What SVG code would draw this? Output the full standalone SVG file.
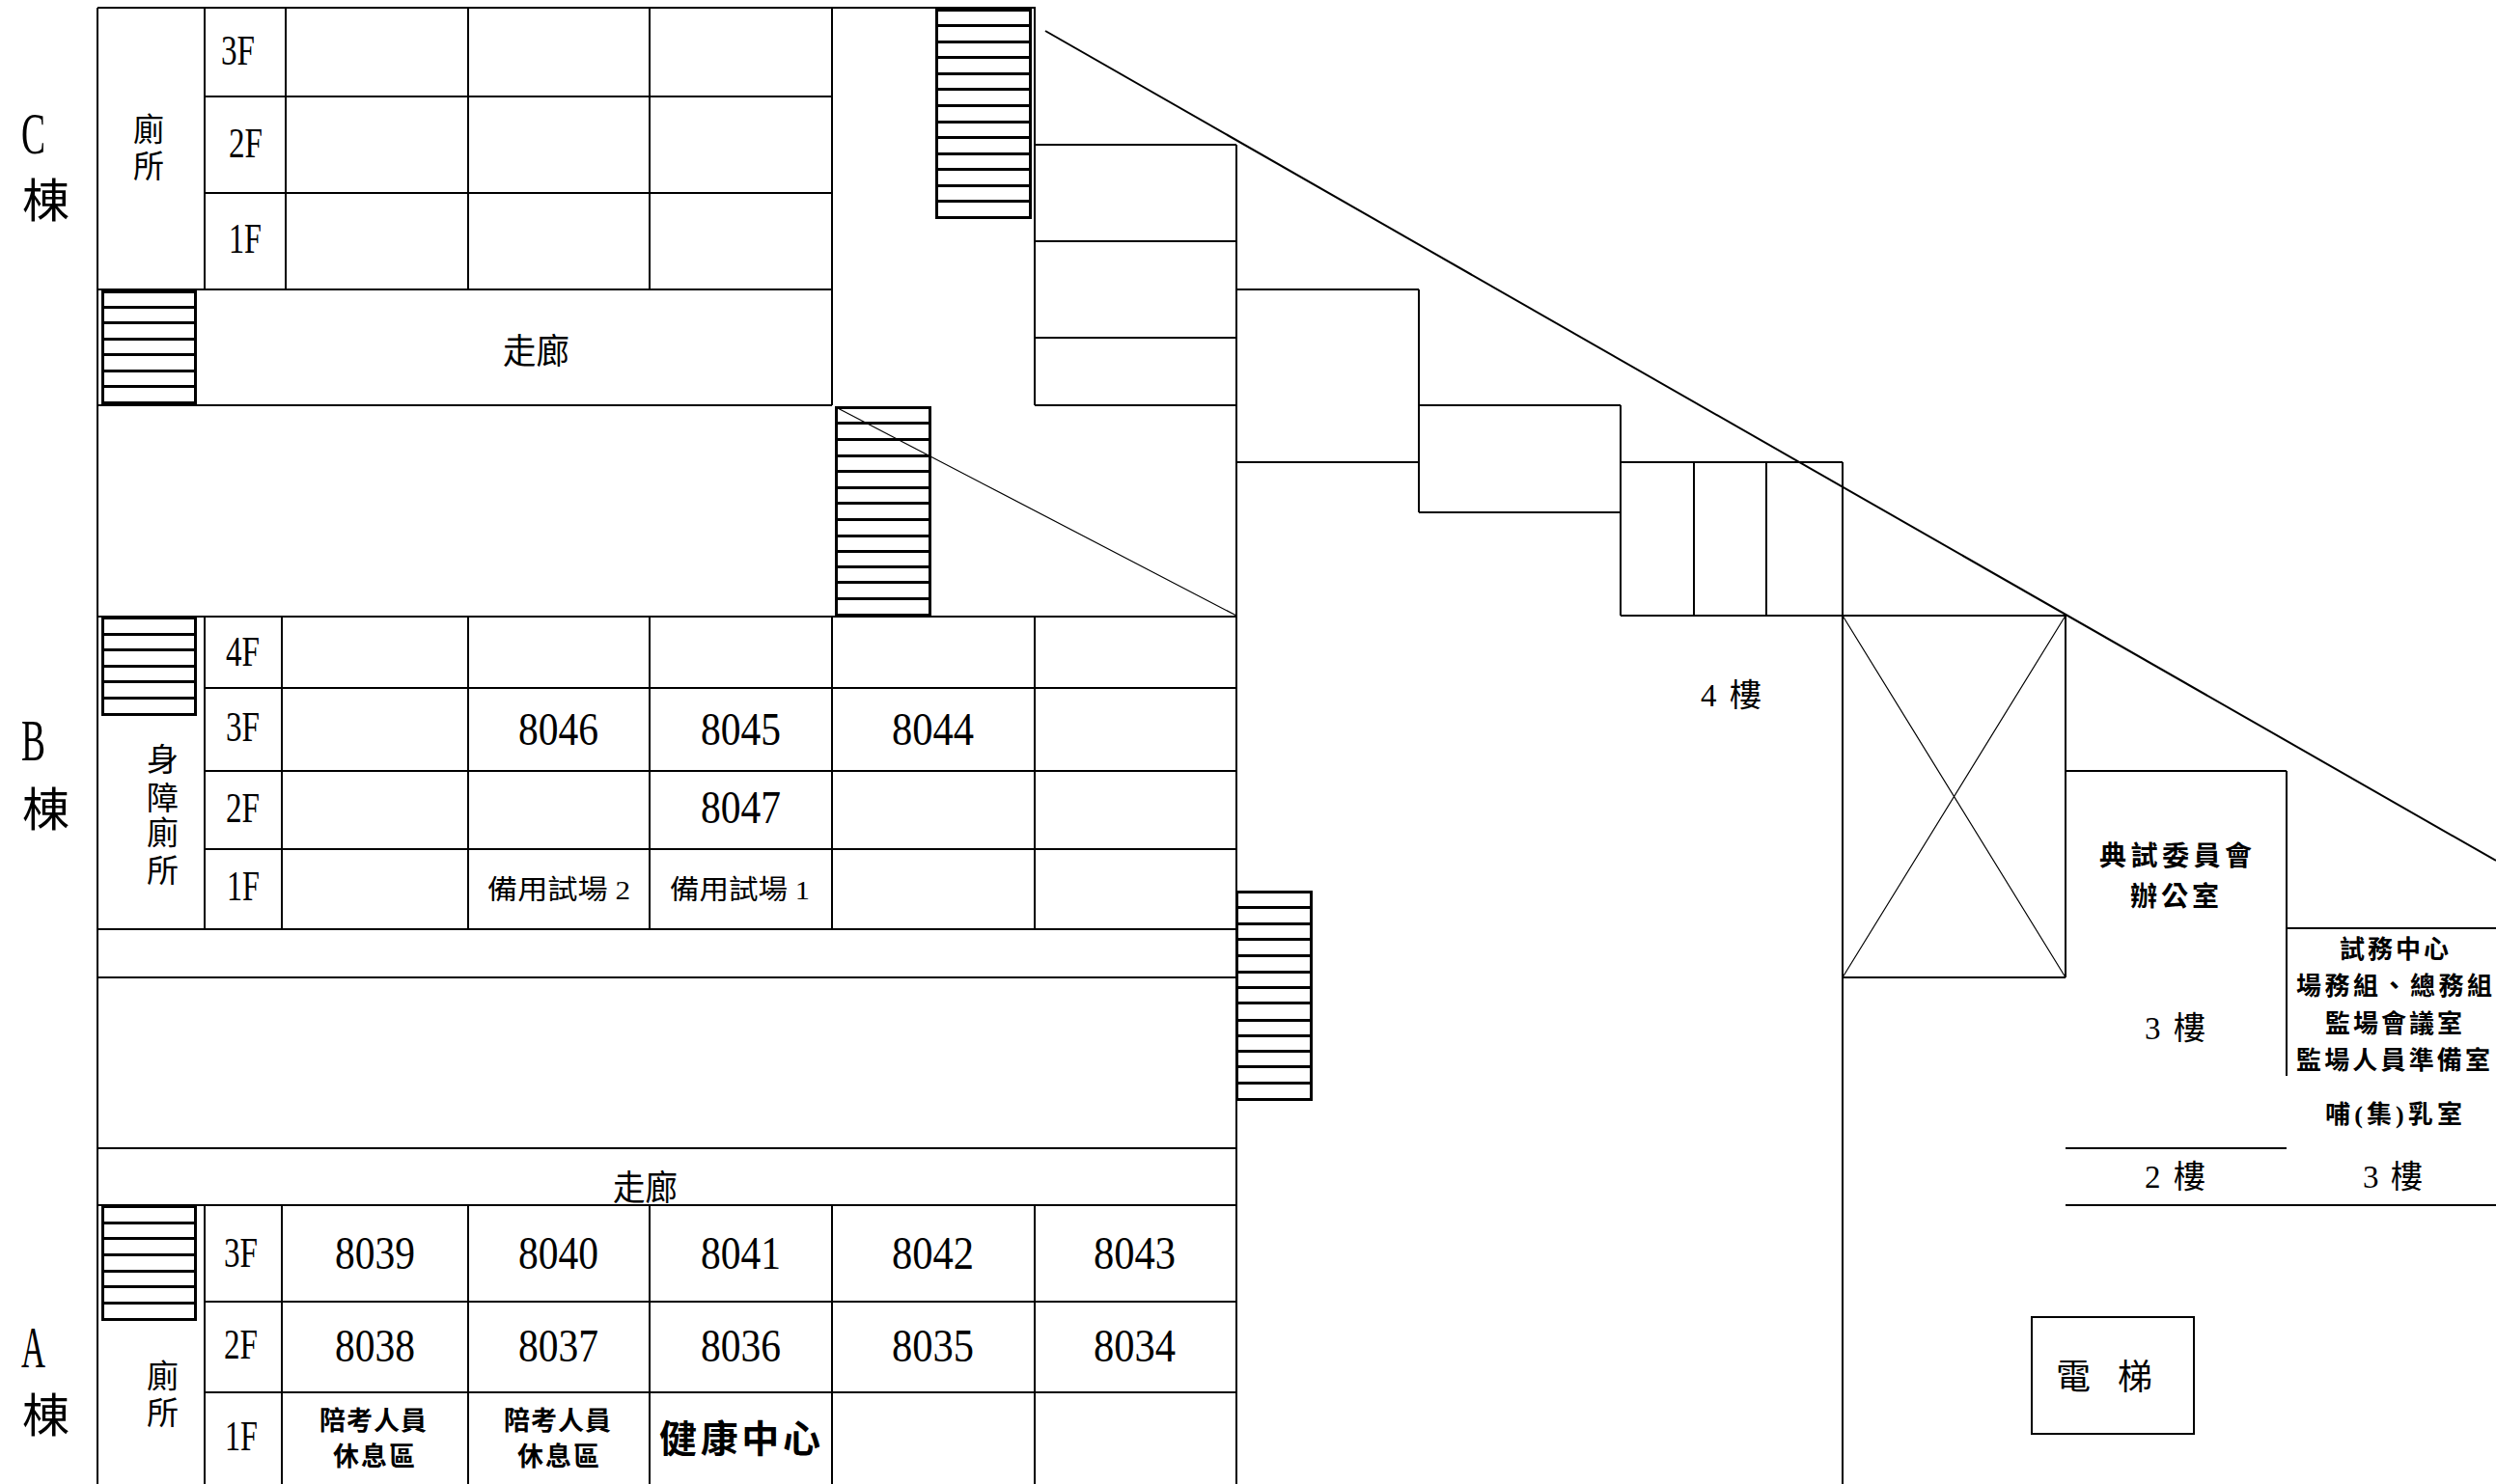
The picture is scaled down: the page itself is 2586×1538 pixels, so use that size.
<svg xmlns="http://www.w3.org/2000/svg" width="2586" height="1538" viewBox="0 0 2586 1538">
<style>
text{font-family:"Liberation Serif","Noto Sans CJK TC",serif;fill:#000;font-weight:400}
.b{font-weight:700}
.w{fill:none;stroke:#000;stroke-width:2;shape-rendering:crispEdges}
.x{fill:none;stroke:#000;stroke-width:2}
.s{fill:#fff;stroke:#000;stroke-width:3;shape-rendering:crispEdges}
.d{fill:none;stroke:#000;stroke-width:1.2}
.m{font-size:48px}
.h{font-size:62px}
.c{font-size:33px}
.z{font-size:45px}
</style>
<rect width="2586" height="1538" fill="#fff"/>
<g id="walls">
<path class="w" d="M101 8H1072V420M101 8V1538M212 8V300M296 8V300M485 8V300M673 8V300M862 8V420M212 100H862M212 200H862M101 300H862M101 420H862M1072 150H1281M1072 250H1281M1072 350H1281M1072 420H1281M1281 150V1538M1281 300H1470M1281 479H1470M1470 300V531M1470 420H1679M1470 531H1679M1679 420V638M1679 479H1909M1755 479V638M1830 479V638M1909 479V1538M101 639H1281M1679 638H2140M212 639V963M292 639V963M485 639V963M673 639V963M862 639V963M1072 639V963M212 713H1281M212 799H1281M212 880H1281M101 963H1281M101 1013H1281M101 1190H1281M101 1249H1281M212 1249V1538M292 1249V1538M485 1249V1538M673 1249V1538M862 1249V1538M1072 1249V1538M212 1349H1281M212 1443H1281M2140 638V1013M1909 1013H2140M2140 799H2369M2369 799V1115M2369 962H2586M2140 1190H2369M2140 1249H2586"/>
<path class="x" d="M1083 32L2586 892"/>
<path class="d" d="M866 422L1281 638M1909 638L2140 1013M2140 638L1909 1013"/>
</g>
<g id="stairs">
<path id="stair-top" class="s" d="M970 10H1067V225H970ZM970 26H1067M970 43H1067M970 59H1067M970 76H1067M970 92H1067M970 109H1067M970 126H1067M970 142H1067M970 159H1067M970 175H1067M970 192H1067M970 208H1067"/>
<path id="stair-c" class="s" d="M106 302H202V417H106ZM106 318H202M106 334H202M106 351H202M106 367H202M106 384H202M106 400H202"/>
<path id="stair-mid" class="s" d="M866 422H963V637H866ZM866 438H963M866 455H963M866 472H963M866 488H963M866 505H963M866 521H963M866 538H963M866 555H963M866 571H963M866 587H963M866 603H963M866 620H963"/>
<path id="stair-b" class="s" d="M106 640H202V740H106ZM106 657H202M106 673H202M106 690H202M106 706H202M106 723H202"/>
<path id="stair-a" class="s" d="M106 1250H202V1367H106ZM106 1267H202M106 1283H202M106 1300H202M106 1317H202M106 1333H202M106 1350H202"/>
<path id="stair-right" class="s" d="M1281 924H1358V1139H1281ZM1281 940H1358M1281 957H1358M1281 973H1358M1281 990H1358M1281 1007H1358M1281 1023H1358M1281 1039H1358M1281 1057H1358M1281 1073H1358M1281 1089H1358M1281 1105H1358M1281 1122H1358"/>
<path class="d" d="M866 422L963 472.500"/>
</g>
<g id="elevator">
<rect x="2105" y="1365" width="168" height="121" fill="#fff" stroke="#000" stroke-width="2"/>
<text x="2130" y="1440" font-size="36" textLength="100" lengthAdjust="spacing">電 梯</text>
</g>
<g id="building-c">
<text class="h" x="22" y="159" textLength="25" lengthAdjust="spacingAndGlyphs">C</text>
<text x="23" y="225" font-size="48" textLength="49" lengthAdjust="spacingAndGlyphs">棟</text>
<text class="c" x="138" y="146" textLength="32" lengthAdjust="spacingAndGlyphs">廁</text>
<text class="c" x="138" y="184" textLength="32" lengthAdjust="spacingAndGlyphs">所</text>
<text class="z" x="229" y="67" textLength="35" lengthAdjust="spacingAndGlyphs">3F</text>
<text class="z" x="237" y="163" textLength="35" lengthAdjust="spacingAndGlyphs">2F</text>
<text class="z" x="237" y="262" textLength="34" lengthAdjust="spacingAndGlyphs">1F</text>
<text x="521" y="377" font-size="36" textLength="69" lengthAdjust="spacingAndGlyphs">走廊</text>
</g>
<g id="building-b">
<text class="h" x="22" y="788" textLength="25" lengthAdjust="spacingAndGlyphs">B</text>
<text x="23" y="856" font-size="48" textLength="49" lengthAdjust="spacingAndGlyphs">棟</text>
<text class="c" x="152" y="799" textLength="33" lengthAdjust="spacingAndGlyphs">身</text>
<text class="c" x="152" y="839" textLength="33" lengthAdjust="spacingAndGlyphs">障</text>
<text class="c" x="152" y="875" textLength="33" lengthAdjust="spacingAndGlyphs">廁</text>
<text class="c" x="152" y="914" textLength="33" lengthAdjust="spacingAndGlyphs">所</text>
<text class="z" x="234" y="690" textLength="35" lengthAdjust="spacingAndGlyphs">4F</text>
<text class="z" x="234" y="768" textLength="35" lengthAdjust="spacingAndGlyphs">3F</text>
<text class="z" x="234" y="852" textLength="35" lengthAdjust="spacingAndGlyphs">2F</text>
<text class="z" x="235" y="933" textLength="34" lengthAdjust="spacingAndGlyphs">1F</text>
<text class="m" x="537" y="772" textLength="83" lengthAdjust="spacingAndGlyphs">8046</text>
<text class="m" x="726" y="772" textLength="83" lengthAdjust="spacingAndGlyphs">8045</text>
<text class="m" x="924" y="772" textLength="85" lengthAdjust="spacingAndGlyphs">8044</text>
<text class="m" x="726" y="853" textLength="83" lengthAdjust="spacingAndGlyphs">8047</text>
<text x="505" y="932" font-size="28" textLength="148" lengthAdjust="spacingAndGlyphs">備用試場 2</text>
<text x="694" y="932" font-size="28" textLength="145" lengthAdjust="spacingAndGlyphs">備用試場 1</text>
</g>
<g id="building-a">
<text x="635" y="1244" font-size="36" textLength="67" lengthAdjust="spacingAndGlyphs">走廊</text>
<text class="h" x="22" y="1417" textLength="25" lengthAdjust="spacingAndGlyphs">A</text>
<text x="23" y="1484" font-size="48" textLength="49" lengthAdjust="spacingAndGlyphs">棟</text>
<text class="c" x="152" y="1438" textLength="33" lengthAdjust="spacingAndGlyphs">廁</text>
<text class="c" x="152" y="1476" textLength="33" lengthAdjust="spacingAndGlyphs">所</text>
<text class="z" x="232" y="1313" textLength="35" lengthAdjust="spacingAndGlyphs">3F</text>
<text class="z" x="232" y="1408" textLength="35" lengthAdjust="spacingAndGlyphs">2F</text>
<text class="z" x="233" y="1503" textLength="34" lengthAdjust="spacingAndGlyphs">1F</text>
<text class="m" x="347" y="1315" textLength="83" lengthAdjust="spacingAndGlyphs">8039</text>
<text class="m" x="537" y="1315" textLength="83" lengthAdjust="spacingAndGlyphs">8040</text>
<text class="m" x="726" y="1315" textLength="83" lengthAdjust="spacingAndGlyphs">8041</text>
<text class="m" x="924" y="1315" textLength="85" lengthAdjust="spacingAndGlyphs">8042</text>
<text class="m" x="1133" y="1315" textLength="85" lengthAdjust="spacingAndGlyphs">8043</text>
<text class="m" x="347" y="1411" textLength="83" lengthAdjust="spacingAndGlyphs">8038</text>
<text class="m" x="537" y="1411" textLength="83" lengthAdjust="spacingAndGlyphs">8037</text>
<text class="m" x="726" y="1411" textLength="83" lengthAdjust="spacingAndGlyphs">8036</text>
<text class="m" x="924" y="1411" textLength="85" lengthAdjust="spacingAndGlyphs">8035</text>
<text class="m" x="1133" y="1411" textLength="85" lengthAdjust="spacingAndGlyphs">8034</text>
<text class="b" x="331" y="1482" font-size="27" textLength="111" lengthAdjust="spacing">陪考人員</text>
<text class="b" x="345" y="1519" font-size="27" textLength="85" lengthAdjust="spacing">休息區</text>
<text class="b" x="522" y="1482" font-size="27" textLength="111" lengthAdjust="spacing">陪考人員</text>
<text class="b" x="536" y="1519" font-size="27" textLength="85" lengthAdjust="spacing">休息區</text>
<text class="b" x="683" y="1505" font-size="39" textLength="167" lengthAdjust="spacing">健康中心</text>
</g>
<g id="floor-labels">
<text x="1762" y="732" font-size="33" textLength="63" lengthAdjust="spacing">4 樓</text>
<text x="2222" y="1077" font-size="33" textLength="63" lengthAdjust="spacing">3 樓</text>
<text x="2222" y="1231" font-size="33" textLength="63" lengthAdjust="spacing">2 樓</text>
<text x="2448" y="1231" font-size="33" textLength="62" lengthAdjust="spacing">3 樓</text>
</g>
<g id="offices">
<text class="b" x="2175" y="897" font-size="28" textLength="158" lengthAdjust="spacing">典試委員會</text>
<text class="b" x="2207" y="939" font-size="28" textLength="92" lengthAdjust="spacing">辦公室</text>
<text class="b" x="2424" y="993" font-size="26" textLength="113" lengthAdjust="spacing">試務中心</text>
<text class="b" x="2379" y="1031" font-size="26" textLength="203" lengthAdjust="spacing">場務組、總務組</text>
<text class="b" x="2409" y="1070" font-size="26" textLength="142" lengthAdjust="spacing">監場會議室</text>
<text class="b" x="2379" y="1108" font-size="26" textLength="201" lengthAdjust="spacing">監場人員準備室</text>
<text class="b" x="2409" y="1164" font-size="26" textLength="142" lengthAdjust="spacing">哺(集)乳室</text>
</g>
</svg>
